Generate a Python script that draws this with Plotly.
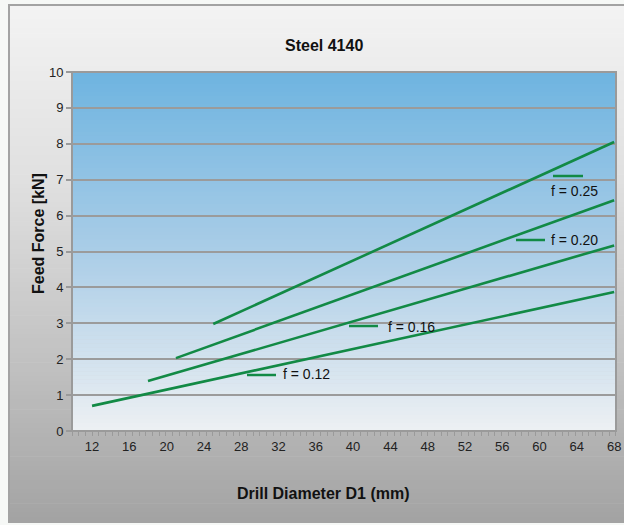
import plotly.graph_objects as go

# ---- data ----
diam_012 = [12, 68]
force_012 = [0.70, 3.87]
diam_016 = [18, 68]
force_016 = [1.39, 5.17]
diam_020 = [21, 68]
force_020 = [2.03, 6.43]
diam_025 = [25, 68]
force_025 = [2.98, 8.05]
series_names = ["f = 0.12", "f = 0.16", "f = 0.20", "f = 0.25"]
x_ticks = list(range(12, 69, 4))
y_ticks = list(range(0, 11))

W, H = 624, 525
PL, PR, PT, PB = 72, 616, 72, 431  # plot area pixels
GREEN = "#128a45"

def px(x):
    return x / W

def py(y):
    return 1 - y / H

def lerp_stops(stops, t):
    for (t0, c0), (t1, c1) in zip(stops[:-1], stops[1:]):
        if t0 <= t <= t1:
            f = (t - t0) / (t1 - t0) if t1 > t0 else 0
            return tuple(round(a + (b - a) * f) for a, b in zip(c0, c1))
    return stops[-1][1]

shapes = []
# frame gradient
FX0, FX1, FY0, FY1 = 9, 640, 5, 522
frame_stops = [(0, (243, 243, 243)), (0.35, (223, 223, 223)), (0.7, (192, 192, 192)), (1, (163, 163, 163))]
n = 110
for i in range(n):
    y0 = FY0 + (FY1 - FY0) * i / n
    y1 = FY0 + (FY1 - FY0) * (i + 1) / n + 0.6
    c = lerp_stops(frame_stops, (i + 0.5) / n)
    shapes.append(dict(type="rect", xref="paper", yref="paper", layer="below",
                       x0=px(FX0), x1=px(FX1), y0=py(y0), y1=py(y1),
                       fillcolor="rgb(%d,%d,%d)" % c, line=dict(width=0)))
shapes.append(dict(type="rect", xref="paper", yref="paper", layer="below",
                   x0=px(FX0), x1=px(FX1), y0=py(FY0), y1=py(FY1),
                   line=dict(color="#a3a3a3", width=2)))
# plot area gradient
plot_stops = [(0, (110, 180, 224)), (0.5, (170, 205, 231)), (1, (237, 240, 243))]
n = 90
for i in range(n):
    y0 = PT + (PB - PT) * i / n
    y1 = PT + (PB - PT) * (i + 1) / n + 0.6
    c = lerp_stops(plot_stops, (i + 0.5) / n)
    shapes.append(dict(type="rect", xref="paper", yref="paper", layer="below",
                       x0=px(PL), x1=px(PR), y0=py(y0), y1=py(min(y1, PB)),
                       fillcolor="rgb(%d,%d,%d)" % c, line=dict(width=0)))
shapes.append(dict(type="rect", xref="paper", yref="paper", layer="below",
                   x0=px(PL), x1=px(PR), y0=py(PT), y1=py(PB),
                   line=dict(color="#9a9a9a", width=2)))

# legend-like labels: segment (x0, x1, y) and text (x, y)
legend_pos = [
    ((247, 276, 375), (281, 374)),
    ((349, 378, 326), (386, 327)),
    ((516, 545, 240), (549, 240)),
    ((553, 583, 176), (549, 191)),
]
annotations = []
for name, (seg, txt) in zip(series_names, legend_pos):
    shapes.append(dict(type="line", xref="paper", yref="paper",
                       x0=px(seg[0]), x1=px(seg[1]), y0=py(seg[2]), y1=py(seg[2]),
                       line=dict(color=GREEN, width=2.5)))
    annotations.append(dict(xref="paper", yref="paper", x=px(txt[0]), y=py(txt[1]),
                            xanchor="left", yanchor="middle", showarrow=False, text=name,
                            font=dict(family="Liberation Sans, Arial, sans-serif", size=14, color="#111")))

annotations.append(dict(xref="paper", yref="paper", x=px(324), y=py(45), xanchor="center",
                        yanchor="middle", showarrow=False, text="<b>Steel 4140</b>",
                        font=dict(family="Liberation Sans, Arial, sans-serif", size=16, color="#111")))
annotations.append(dict(xref="paper", yref="paper", x=px(323), y=py(493), xanchor="center",
                        yanchor="middle", showarrow=False, text="<b>Drill Diameter D1 (mm)</b>",
                        font=dict(family="Liberation Sans, Arial, sans-serif", size=16, color="#111")))
annotations.append(dict(xref="paper", yref="paper", x=px(38), y=py(234), xanchor="center",
                        yanchor="middle", showarrow=False, text="<b>Feed Force [kN]</b>", textangle=-90,
                        font=dict(family="Liberation Sans, Arial, sans-serif", size=16, color="#111")))

fig = go.Figure()
for xs, ys, name in zip([diam_012, diam_016, diam_020, diam_025],
                        [force_012, force_016, force_020, force_025], series_names):
    fig.add_trace(go.Scatter(x=xs, y=ys, mode="lines", name=name,
                             line=dict(color=GREEN, width=2.6), showlegend=False))

tick_font = dict(family="Liberation Sans Narrow, Arial Narrow, Liberation Sans, sans-serif", size=13, color="#222")
fig.update_layout(
    width=W, height=H, margin=dict(l=0, r=0, t=0, b=0),
    paper_bgcolor="#f6f8f6", plot_bgcolor="rgba(0,0,0,0)",
    shapes=shapes, annotations=annotations, showlegend=False,
    xaxis=dict(domain=[px(PL), px(PR)], range=[9.85, 68.2], tickmode="array", tickvals=x_ticks,
               ticktext=[str(v) for v in x_ticks], ticks="", showgrid=False, zeroline=False,
               showline=False, tickfont=tick_font, automargin=False, ticklabelstandoff=6,
               minor=dict(ticks="outside", ticklen=4, tickcolor="#9a9a9a", tickwidth=1,
                          tick0=9.85, dtick=0.72, showgrid=False)),
    yaxis=dict(domain=[py(PB), py(PT)], range=[0, 10], tickmode="array", tickvals=y_ticks,
               ticks="outside", ticklen=5, tickcolor="#9a9a9a", tickwidth=1.5,
               showgrid=True, gridcolor="#9b9b9b", gridwidth=1.5, zeroline=False,
               showline=False, tickfont=tick_font, automargin=False),
)
fig.write_html("out.html", config={"displayModeBar": False},
               post_script="document.body.style.margin='0';document.body.style.padding='0';")
